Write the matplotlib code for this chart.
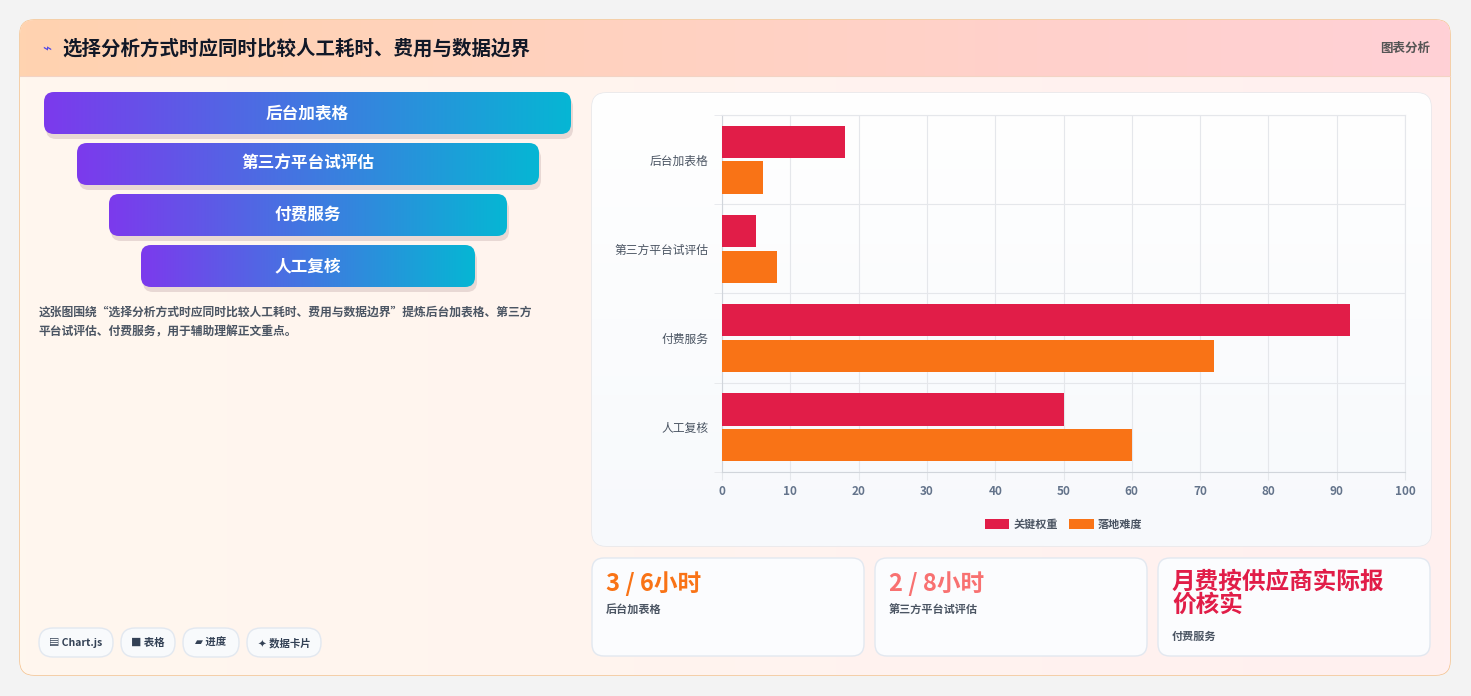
import matplotlib
matplotlib.use("Agg")
import matplotlib.pyplot as plt
import numpy as np
from matplotlib.patches import FancyBboxPatch, Rectangle
from matplotlib.colors import LinearSegmentedColormap

plt.rcParams['font.family'] = ['Noto Sans CJK SC', 'DejaVu Sans']

title = "选择分析方式时应同时比较人工耗时、费用与数据边界"
categories = ["后台加表格", "第三方平台试评估", "付费服务", "人工复核"]
key_weight = [18, 5, 92, 50]
difficulty = [6, 8, 72, 60]
series_names = ["关键权重", "落地难度"]
xticks = [0, 10, 20, 30, 40, 50, 60, 70, 80, 90, 100]
desc = "这张图围绕“选择分析方式时应同时比较人工耗时、费用与数据边界”提炼后台加表格、第三方\n平台试评估、付费服务，用于辅助理解正文重点。"
card_values = ["3 / 6小时", "2 / 8小时", "月费按供应商实际报\n价核实"]
card_labels = ["后台加表格", "第三方平台试评估", "付费服务"]
card_colors = ["#f97316", "#f87171", "#e11d48"]
chips = ["▤ Chart.js", "■ 表格", "▰ 进度", "✦ 数据卡片"]

W, H = 1471, 696
fig = plt.figure(figsize=(W/100, H/100), dpi=100)
fig.patch.set_facecolor("#f3f3f3")
bg = fig.add_axes([0, 0, 1, 1])
bg.set_xlim(0, W); bg.set_ylim(H, 0); bg.axis("off")

def rbox(x, y, w, h, r, fc, ec="none", lw=1, z=1, ax=bg):
    p = FancyBboxPatch((x, y), w, h, boxstyle=f"round,pad=0,rounding_size={r}",
                       fc=fc, ec=ec, lw=lw, zorder=z)
    ax.add_patch(p)
    return p

def grad(x, y, w, h, c1, c2, clip, z, vertical=False):
    cm = LinearSegmentedColormap.from_list("g", [c1, c2])
    g = np.linspace(0, 1, 256).reshape(1, -1)
    if vertical:
        g = g.T
    im = bg.imshow(g, cmap=cm, extent=(x, x+w, y+h, y), aspect="auto", zorder=z)
    im.set_clip_path(clip)

# card
card = rbox(20, 20, 1430, 655, 14, "#fff5f2", ec="#f5c08a", lw=1, z=1)
grad(20, 20, 1430, 655, "#fff7ee", "#fff0f0", card, 1.1)
hdr = Rectangle((20, 20), 1430, 56, transform=bg.transData)
grad(20, 20, 1430, 56, "#ffd3b0", "#ffd0d6", card, 1.2)
im_clip = rbox(20, 20, 1430, 56, 0, "none", z=0)
bg.plot([20, 1450], [76, 76], color="#f3d3c4", lw=0.8, zorder=1.3)
bg.text(42, 49, "⌁", color="#4f46e5", fontsize=11, va="center", zorder=3, family=['DejaVu Sans'])
bg.text(62, 49, title, fontsize=14, fontweight="bold", color="#111827", va="center", zorder=3)
bg.text(1430, 48, "图表分析", fontsize=9, color="#555", fontweight="bold", va="center", ha="right", zorder=3)

# funnel
funnel = [(44, 92, 527), (77, 143, 462), (109, 194, 398), (141, 245, 334)]
for (x, y, w), name in zip(funnel, categories):
    rbox(x+2, y+5, w, 42, 10, "#e8d8d4", z=1.5)
    p = rbox(x, y, w, 42, 10, "none", z=2)
    grad(x, y, w, 42, "#7c3aed", "#06b6d4", p, 2)
    bg.text(x + w/2, y + 21, name, color="white", fontsize=12, fontweight="bold", ha="center", va="center", zorder=3)
bg.text(39, 306, desc, fontsize=8.5, color="#4b5563", fontweight="bold", va="top", linespacing=1.7, zorder=3)

# chips
cx = 39
for c, w in zip(chips, [74, 54, 56, 74]):
    rbox(cx, 628, w, 29, 14, "#f8fafc", ec="#e2e8f0", z=2)
    bg.text(cx + w/2, 643, c, fontsize=7.5, fontweight="bold", color="#334155", ha="center", va="center", zorder=3,
            family=['Noto Sans CJK SC', 'DejaVu Sans'])
    cx += w + 8

# chart panel
rbox(592, 93, 839, 453, 14, "#ffffff", ec="#e5e7eb", z=1.5)
pnl = rbox(592, 93, 839, 453, 14, "none", z=1.5)
grad(592, 93, 839, 453, "#ffffff", "#f7f9fc", pnl, 1.6, vertical=True)

ax = fig.add_axes([722/W, 1 - 472/H, (1405-722)/W, (472-115)/H])
ax.patch.set_alpha(0)
n = len(categories)
yc = np.arange(n)
bh = 0.36
ax.barh(yc - 0.2, key_weight, height=bh, color="#e11d48", label=series_names[0], zorder=3)
ax.barh(yc + 0.2, difficulty, height=bh, color="#f97316", label=series_names[1], zorder=3)
ax.set_ylim(n - 0.5, -0.5)
ax.set_xlim(0, 100)
ax.set_xticks(xticks)
ax.set_yticks(yc)
ax.set_yticklabels(categories, fontsize=8.5, color="#4b5563")
ax.set_yticks(np.arange(n + 1) - 0.5, minor=True)
ax.tick_params(axis="y", which="major", length=0, pad=10)
ax.tick_params(axis="y", which="minor", length=6, color="#e5e7eb")
ax.tick_params(axis="x", labelsize=8.5, labelcolor="#64748b", length=6, color="#e5e7eb")
for t in ax.get_xticklabels():
    t.set_fontweight("bold")
ax.grid(axis="x", color="#e5e7eb", lw=0.8, zorder=0)
ax.grid(axis="y", which="minor", color="#e5e7eb", lw=0.8, zorder=0)
for s in ax.spines.values():
    s.set_color("#e5e7eb")
ax.spines["left"].set_color("#d1d5db"); ax.spines["bottom"].set_color("#d1d5db")
leg = ax.legend(loc="upper center", bbox_to_anchor=(0.5, -0.1), ncol=2, frameon=False,
                fontsize=8, handlelength=2.2, handleheight=1.0, columnspacing=1.0, handletextpad=0.4)
for t in leg.get_texts():
    t.set_color("#4b5563"); t.set_fontweight("bold")

# metric cards
for i, (v, l, c) in enumerate(zip(card_values, card_labels, card_colors)):
    x = 592 + i * 283
    rbox(x, 558, 272, 98, 12, "#fbfcfe", ec="#e2e8f0", z=2)
    if "\n" in v:
        bg.text(x + 14, 570, v, fontsize=17, fontweight="bold", color=c, va="top", linespacing=0.95, zorder=3)
        bg.text(x + 14, 636, l, fontsize=8, color="#4b5563", fontweight="bold", va="center", zorder=3)
    else:
        bg.text(x + 14, 584, v, fontsize=17, fontweight="bold", color=c, va="center", zorder=3)
        bg.text(x + 14, 610, l, fontsize=8, color="#4b5563", fontweight="bold", va="center", zorder=3)

fig.savefig("out.png", dpi=100, facecolor=fig.get_facecolor())
